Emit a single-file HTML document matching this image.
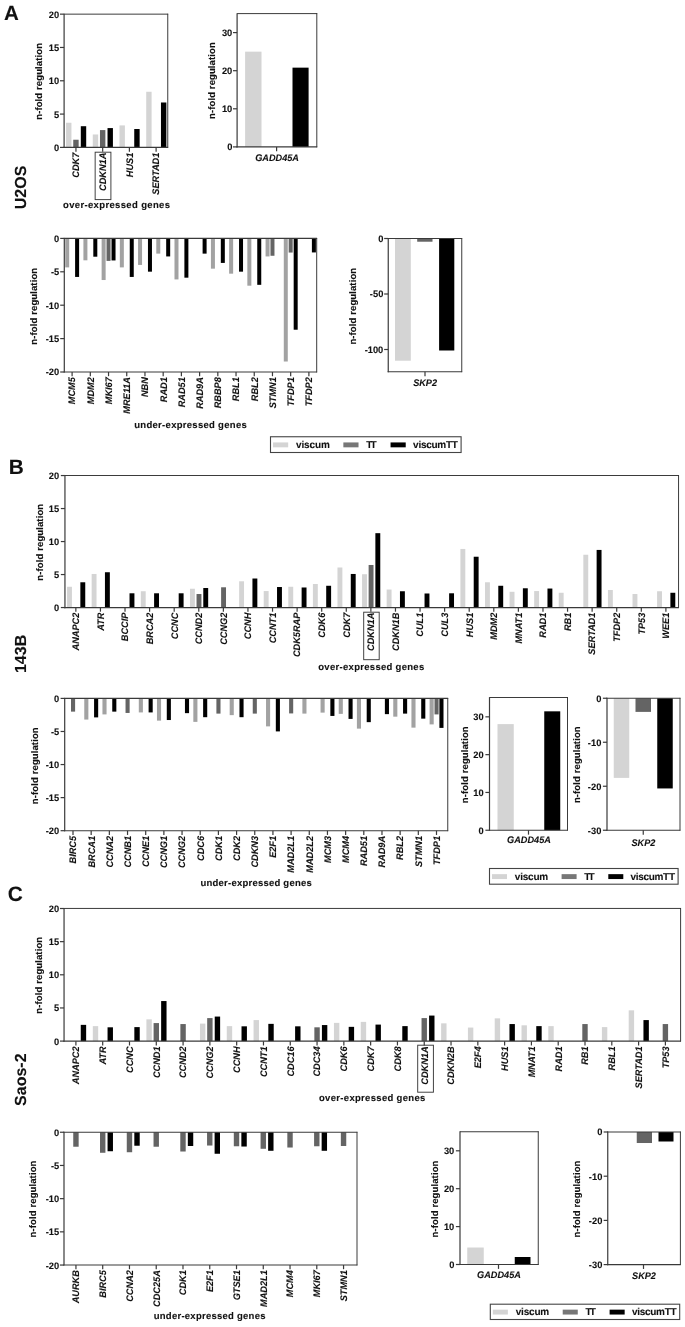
<!DOCTYPE html>
<html>
<head>
<meta charset="utf-8">
<title>Figure</title>
<style>
html, body { margin: 0; padding: 0; background: #ffffff; }
body { width: 685px; height: 1327px; overflow: hidden; font-family: "Liberation Sans", sans-serif; }
svg { display: block; will-change: transform; filter: blur(0.45px); }
svg text { font-family: "Liberation Sans", sans-serif; font-weight: bold; fill: #111; stroke: #111; stroke-width: 0.1px; text-rendering: geometricPrecision; }
</style>
</head>
<body>
<svg width="685" height="1327" viewBox="0 0 685 1327">
<rect x="0" y="0" width="685" height="1327" fill="#ffffff"/>
<text x="3.9" y="19.5" font-size="20.5">A</text>
<text x="8.7" y="473.8" font-size="20.8">B</text>
<text x="7.7" y="901.4" font-size="20.8">C</text>
<text x="25.9" y="187.4" font-size="16" text-anchor="middle" transform="rotate(-90 25.9 187.4)">U2OS</text>
<text x="25.9" y="653.9" font-size="16" text-anchor="middle" transform="rotate(-90 25.9 653.9)">143B</text>
<text x="25.8" y="1079.7" font-size="16" text-anchor="middle" transform="rotate(-90 25.8 1079.7)">Saos-2</text>
<rect x="66.05" y="122.75" width="5.4" height="24.65" fill="#d4d4d4"/>
<rect x="73.25" y="139.74" width="5.4" height="7.66" fill="#646464"/>
<rect x="80.8" y="126.21" width="5.4" height="21.19" fill="#000000"/>
<rect x="92.77" y="134.47" width="5.4" height="12.93" fill="#d4d4d4"/>
<rect x="99.97" y="130.08" width="5.4" height="17.32" fill="#646464"/>
<rect x="107.52" y="128.08" width="5.4" height="19.32" fill="#000000"/>
<rect x="119.49" y="125.41" width="5.4" height="21.99" fill="#d4d4d4"/>
<rect x="134.24" y="129.01" width="5.4" height="18.39" fill="#000000"/>
<rect x="146.21" y="91.77" width="5.4" height="55.63" fill="#d4d4d4"/>
<rect x="160.96" y="102.49" width="5.4" height="44.91" fill="#000000"/>
<line x1="167.75" y1="13.75" x2="167.75" y2="147.8" stroke="#303030" stroke-width="0.95"/>
<line x1="64.1" y1="14.15" x2="168.15" y2="14.15" stroke="#303030" stroke-width="0.95"/>
<line x1="64.1" y1="13.75" x2="64.1" y2="148" stroke="#3a3a3a" stroke-width="1.2"/>
<line x1="63.5" y1="147.4" x2="168.15" y2="147.4" stroke="#3a3a3a" stroke-width="1.2"/>
<line x1="60" y1="147.4" x2="64.1" y2="147.4" stroke="#3a3a3a" stroke-width="1.2"/>
<text x="59.2" y="150.85" font-size="9.3" text-anchor="end">0</text>
<line x1="60" y1="114.09" x2="64.1" y2="114.09" stroke="#3a3a3a" stroke-width="1.2"/>
<text x="59.2" y="117.54" font-size="9.3" text-anchor="end">5</text>
<line x1="60" y1="80.78" x2="64.1" y2="80.78" stroke="#3a3a3a" stroke-width="1.2"/>
<text x="59.2" y="84.23" font-size="9.3" text-anchor="end">10</text>
<line x1="60" y1="47.46" x2="64.1" y2="47.46" stroke="#3a3a3a" stroke-width="1.2"/>
<text x="59.2" y="50.91" font-size="9.3" text-anchor="end">15</text>
<line x1="60" y1="14.15" x2="64.1" y2="14.15" stroke="#3a3a3a" stroke-width="1.2"/>
<text x="59.2" y="17.6" font-size="9.3" text-anchor="end">20</text>
<text x="42.2" y="119.78" font-size="9.5" transform="rotate(-90 42.2 119.78)" textLength="76.75" lengthAdjust="spacing">n-fold regulation</text>
<line x1="75.95" y1="147.5" x2="75.95" y2="151.7" stroke="#3a3a3a" stroke-width="1.2"/>
<text x="79.3" y="177.66" font-size="9.5" font-style="italic" transform="rotate(-90 79.3 177.66)" textLength="24.96" lengthAdjust="spacingAndGlyphs">CDK7</text>
<line x1="102.67" y1="147.5" x2="102.67" y2="151.7" stroke="#3a3a3a" stroke-width="1.2"/>
<text x="106.02" y="190.9" font-size="9.5" font-style="italic" transform="rotate(-90 106.02 190.9)" textLength="38.2" lengthAdjust="spacingAndGlyphs">CDKN1A</text>
<line x1="129.39" y1="147.5" x2="129.39" y2="151.7" stroke="#3a3a3a" stroke-width="1.2"/>
<text x="132.74" y="177.16" font-size="9.5" font-style="italic" transform="rotate(-90 132.74 177.16)" textLength="24.46" lengthAdjust="spacingAndGlyphs">HUS1</text>
<line x1="156.11" y1="147.5" x2="156.11" y2="151.7" stroke="#3a3a3a" stroke-width="1.2"/>
<text x="159.46" y="194.64" font-size="9.5" font-style="italic" transform="rotate(-90 159.46 194.64)" textLength="41.94" lengthAdjust="spacingAndGlyphs">SERTAD1</text>
<text x="63" y="208.3" font-size="9.5" textLength="107" lengthAdjust="spacing">over-expressed genes</text>
<rect x="95.15" y="152.2" width="15.75" height="47.4" fill="none" stroke="#3a3a3a" stroke-width="0.95"/>
<rect x="245.1" y="51.65" width="16.4" height="95.25" fill="#d4d4d4"/>
<rect x="292.5" y="67.65" width="16.1" height="79.25" fill="#000000"/>
<line x1="316.8" y1="13.2" x2="316.8" y2="147.3" stroke="#303030" stroke-width="0.95"/>
<line x1="237.1" y1="13.6" x2="317.2" y2="13.6" stroke="#303030" stroke-width="0.95"/>
<line x1="237.1" y1="13.2" x2="237.1" y2="147.5" stroke="#3a3a3a" stroke-width="1.2"/>
<line x1="236.5" y1="146.9" x2="317.2" y2="146.9" stroke="#3a3a3a" stroke-width="1.2"/>
<line x1="233" y1="146.9" x2="237.1" y2="146.9" stroke="#3a3a3a" stroke-width="1.2"/>
<text x="232.3" y="150.35" font-size="9.3" text-anchor="end">0</text>
<line x1="233" y1="108.8" x2="237.1" y2="108.8" stroke="#3a3a3a" stroke-width="1.2"/>
<text x="232.3" y="112.25" font-size="9.3" text-anchor="end">10</text>
<line x1="233" y1="70.7" x2="237.1" y2="70.7" stroke="#3a3a3a" stroke-width="1.2"/>
<text x="232.3" y="74.15" font-size="9.3" text-anchor="end">20</text>
<line x1="233" y1="32.6" x2="237.1" y2="32.6" stroke="#3a3a3a" stroke-width="1.2"/>
<text x="232.3" y="36.05" font-size="9.3" text-anchor="end">30</text>
<text x="215.5" y="118.97" font-size="9.5" transform="rotate(-90 215.5 118.97)" textLength="76.75" lengthAdjust="spacing">n-fold regulation</text>
<line x1="276.6" y1="146.9" x2="276.6" y2="151.3" stroke="#3a3a3a" stroke-width="1.2"/>
<text x="255.19" y="160.7" font-size="9.5" font-style="italic" textLength="43.81" lengthAdjust="spacingAndGlyphs">GADD45A</text>
<rect x="65.2" y="238.4" width="4" height="28.99" fill="#a2a2a2"/>
<rect x="75.1" y="238.4" width="4" height="38.54" fill="#000000"/>
<rect x="83.41" y="238.4" width="4" height="21.91" fill="#a2a2a2"/>
<rect x="93.31" y="238.4" width="4" height="18.3" fill="#000000"/>
<rect x="101.63" y="238.4" width="4" height="41.62" fill="#a2a2a2"/>
<rect x="106.53" y="238.4" width="4" height="22.51" fill="#646464"/>
<rect x="111.53" y="238.4" width="4" height="22.04" fill="#000000"/>
<rect x="119.84" y="238.4" width="4" height="28.99" fill="#a2a2a2"/>
<rect x="129.75" y="238.4" width="4" height="38.54" fill="#000000"/>
<rect x="138.06" y="238.4" width="4" height="26.52" fill="#a2a2a2"/>
<rect x="147.96" y="238.4" width="4" height="33.27" fill="#000000"/>
<rect x="156.28" y="238.4" width="4" height="15.23" fill="#a2a2a2"/>
<rect x="166.18" y="238.4" width="4" height="18.04" fill="#000000"/>
<rect x="174.49" y="238.4" width="4" height="41.02" fill="#a2a2a2"/>
<rect x="184.39" y="238.4" width="4" height="39.28" fill="#000000"/>
<rect x="202.6" y="238.4" width="4" height="15.23" fill="#000000"/>
<rect x="210.92" y="238.4" width="4" height="30.26" fill="#a2a2a2"/>
<rect x="220.82" y="238.4" width="4" height="24.52" fill="#000000"/>
<rect x="229.13" y="238.4" width="4" height="35.27" fill="#a2a2a2"/>
<rect x="239.03" y="238.4" width="4" height="33.27" fill="#000000"/>
<rect x="247.35" y="238.4" width="4" height="47.29" fill="#a2a2a2"/>
<rect x="257.25" y="238.4" width="4" height="46.43" fill="#000000"/>
<rect x="265.57" y="238.4" width="4" height="18.04" fill="#a2a2a2"/>
<rect x="270.47" y="238.4" width="4" height="17.37" fill="#646464"/>
<rect x="283.78" y="238.4" width="4" height="123.11" fill="#a2a2a2"/>
<rect x="288.68" y="238.4" width="4" height="14.16" fill="#646464"/>
<rect x="293.68" y="238.4" width="4" height="91.32" fill="#000000"/>
<rect x="311.89" y="238.4" width="4" height="14.03" fill="#000000"/>
<line x1="316.7" y1="238" x2="316.7" y2="372.4" stroke="#303030" stroke-width="0.95"/>
<line x1="63.7" y1="238.4" x2="317.1" y2="238.4" stroke="#3a3a3a" stroke-width="1.2"/>
<line x1="64.3" y1="238" x2="64.3" y2="372.6" stroke="#3a3a3a" stroke-width="1.2"/>
<line x1="63.7" y1="372" x2="317.1" y2="372" stroke="#3a3a3a" stroke-width="1.2"/>
<line x1="60.2" y1="238.4" x2="64.3" y2="238.4" stroke="#3a3a3a" stroke-width="1.2"/>
<text x="59.2" y="241.85" font-size="9.3" text-anchor="end">0</text>
<line x1="60.2" y1="271.8" x2="64.3" y2="271.8" stroke="#3a3a3a" stroke-width="1.2"/>
<text x="59.2" y="275.25" font-size="9.3" text-anchor="end">-5</text>
<line x1="60.2" y1="305.2" x2="64.3" y2="305.2" stroke="#3a3a3a" stroke-width="1.2"/>
<text x="59.2" y="308.65" font-size="9.3" text-anchor="end">-10</text>
<line x1="60.2" y1="338.6" x2="64.3" y2="338.6" stroke="#3a3a3a" stroke-width="1.2"/>
<text x="59.2" y="342.05" font-size="9.3" text-anchor="end">-15</text>
<line x1="60.2" y1="372" x2="64.3" y2="372" stroke="#3a3a3a" stroke-width="1.2"/>
<text x="59.2" y="375.45" font-size="9.3" text-anchor="end">-20</text>
<text x="36.9" y="344.62" font-size="9.5" transform="rotate(-90 36.9 344.62)" textLength="76.75" lengthAdjust="spacing">n-fold regulation</text>
<line x1="72.1" y1="372" x2="72.1" y2="376.2" stroke="#3a3a3a" stroke-width="1.2"/>
<text x="75.45" y="404.19" font-size="9.5" font-style="italic" transform="rotate(-90 75.45 404.19)" textLength="26.99" lengthAdjust="spacingAndGlyphs">MCM5</text>
<line x1="90.31" y1="372" x2="90.31" y2="376.2" stroke="#3a3a3a" stroke-width="1.2"/>
<text x="93.66" y="404.19" font-size="9.5" font-style="italic" transform="rotate(-90 93.66 404.19)" textLength="26.99" lengthAdjust="spacingAndGlyphs">MDM2</text>
<line x1="108.53" y1="372" x2="108.53" y2="376.2" stroke="#3a3a3a" stroke-width="1.2"/>
<text x="111.88" y="404.2" font-size="9.5" font-style="italic" transform="rotate(-90 111.88 404.2)" textLength="27" lengthAdjust="spacingAndGlyphs">MKI67</text>
<line x1="126.74" y1="372" x2="126.74" y2="376.2" stroke="#3a3a3a" stroke-width="1.2"/>
<text x="130.09" y="413.71" font-size="9.5" font-style="italic" transform="rotate(-90 130.09 413.71)" textLength="36.51" lengthAdjust="spacingAndGlyphs">MRE11A</text>
<line x1="144.96" y1="372" x2="144.96" y2="376.2" stroke="#3a3a3a" stroke-width="1.2"/>
<text x="148.31" y="397.06" font-size="9.5" font-style="italic" transform="rotate(-90 148.31 397.06)" textLength="19.86" lengthAdjust="spacingAndGlyphs">NBN</text>
<line x1="163.18" y1="372" x2="163.18" y2="376.2" stroke="#3a3a3a" stroke-width="1.2"/>
<text x="166.53" y="402.16" font-size="9.5" font-style="italic" transform="rotate(-90 166.53 402.16)" textLength="24.96" lengthAdjust="spacingAndGlyphs">RAD1</text>
<line x1="181.39" y1="372" x2="181.39" y2="376.2" stroke="#3a3a3a" stroke-width="1.2"/>
<text x="184.74" y="407.26" font-size="9.5" font-style="italic" transform="rotate(-90 184.74 407.26)" textLength="30.06" lengthAdjust="spacingAndGlyphs">RAD51</text>
<line x1="199.6" y1="372" x2="199.6" y2="376.2" stroke="#3a3a3a" stroke-width="1.2"/>
<text x="202.95" y="408.78" font-size="9.5" font-style="italic" transform="rotate(-90 202.95 408.78)" textLength="31.58" lengthAdjust="spacingAndGlyphs">RAD9A</text>
<line x1="217.82" y1="372" x2="217.82" y2="376.2" stroke="#3a3a3a" stroke-width="1.2"/>
<text x="221.17" y="408.28" font-size="9.5" font-style="italic" transform="rotate(-90 221.17 408.28)" textLength="31.08" lengthAdjust="spacingAndGlyphs">RBBP8</text>
<line x1="236.03" y1="372" x2="236.03" y2="376.2" stroke="#3a3a3a" stroke-width="1.2"/>
<text x="239.38" y="401.14" font-size="9.5" font-style="italic" transform="rotate(-90 239.38 401.14)" textLength="23.94" lengthAdjust="spacingAndGlyphs">RBL1</text>
<line x1="254.25" y1="372" x2="254.25" y2="376.2" stroke="#3a3a3a" stroke-width="1.2"/>
<text x="257.6" y="401.14" font-size="9.5" font-style="italic" transform="rotate(-90 257.6 401.14)" textLength="23.94" lengthAdjust="spacingAndGlyphs">RBL2</text>
<line x1="272.47" y1="372" x2="272.47" y2="376.2" stroke="#3a3a3a" stroke-width="1.2"/>
<text x="275.82" y="408.27" font-size="9.5" font-style="italic" transform="rotate(-90 275.82 408.27)" textLength="31.07" lengthAdjust="spacingAndGlyphs">STMN1</text>
<line x1="290.68" y1="372" x2="290.68" y2="376.2" stroke="#3a3a3a" stroke-width="1.2"/>
<text x="294.03" y="406.23" font-size="9.5" font-style="italic" transform="rotate(-90 294.03 406.23)" textLength="29.03" lengthAdjust="spacingAndGlyphs">TFDP1</text>
<line x1="308.89" y1="372" x2="308.89" y2="376.2" stroke="#3a3a3a" stroke-width="1.2"/>
<text x="312.25" y="406.23" font-size="9.5" font-style="italic" transform="rotate(-90 312.25 406.23)" textLength="29.03" lengthAdjust="spacingAndGlyphs">TFDP2</text>
<text x="134.25" y="427.7" font-size="9.5" textLength="112.5" lengthAdjust="spacing">under-expressed genes</text>
<rect x="395" y="238.5" width="15.8" height="122.21" fill="#d4d4d4"/>
<rect x="417.2" y="238.5" width="15.3" height="3.22" fill="#646464"/>
<rect x="439.1" y="238.5" width="15.2" height="112" fill="#000000"/>
<line x1="461.75" y1="238.1" x2="461.75" y2="372.15" stroke="#303030" stroke-width="0.95"/>
<line x1="387.65" y1="238.5" x2="462.15" y2="238.5" stroke="#3a3a3a" stroke-width="1.2"/>
<line x1="388.25" y1="238.1" x2="388.25" y2="372.35" stroke="#3a3a3a" stroke-width="1.2"/>
<line x1="387.65" y1="371.75" x2="462.15" y2="371.75" stroke="#3a3a3a" stroke-width="1.2"/>
<line x1="384.15" y1="238.5" x2="388.25" y2="238.5" stroke="#3a3a3a" stroke-width="1.2"/>
<text x="383.3" y="241.95" font-size="9.3" text-anchor="end">0</text>
<line x1="384.15" y1="294" x2="388.25" y2="294" stroke="#3a3a3a" stroke-width="1.2"/>
<text x="383.3" y="297.45" font-size="9.3" text-anchor="end">-50</text>
<line x1="384.15" y1="349.5" x2="388.25" y2="349.5" stroke="#3a3a3a" stroke-width="1.2"/>
<text x="383.3" y="352.95" font-size="9.3" text-anchor="end">-100</text>
<text x="355.8" y="344.62" font-size="9.5" transform="rotate(-90 355.8 344.62)" textLength="76.75" lengthAdjust="spacing">n-fold regulation</text>
<line x1="425" y1="371.75" x2="425" y2="376.15" stroke="#3a3a3a" stroke-width="1.2"/>
<text x="413.13" y="386.2" font-size="9.5" font-style="italic" textLength="23.95" lengthAdjust="spacingAndGlyphs">SKP2</text>
<rect x="270.5" y="436.75" width="190.6" height="15.75" fill="#fff" stroke="#444" stroke-width="1.1"/>
<rect x="273.03" y="442.43" width="15.16" height="4.9" fill="#d4d4d4"/>
<text x="296.07" y="448.02" font-size="10" textLength="33.75" lengthAdjust="spacing">viscum</text>
<rect x="343.36" y="442.43" width="15.16" height="4.9" fill="#777"/>
<text x="366.2" y="448.02" font-size="10" textLength="10.51" lengthAdjust="spacing">TT</text>
<rect x="390.56" y="442.43" width="15.16" height="4.9" fill="#000000"/>
<text x="413.1" y="448.02" font-size="10" textLength="44.87" lengthAdjust="spacing">viscumTT</text>
<rect x="67.05" y="586.76" width="4.9" height="20.79" fill="#d4d4d4"/>
<rect x="80.35" y="582.27" width="4.9" height="25.28" fill="#000000"/>
<rect x="91.64" y="573.96" width="4.9" height="33.59" fill="#d4d4d4"/>
<rect x="104.94" y="572.24" width="4.9" height="35.31" fill="#000000"/>
<rect x="129.52" y="593.29" width="4.9" height="14.26" fill="#000000"/>
<rect x="140.8" y="591.25" width="4.9" height="16.3" fill="#d4d4d4"/>
<rect x="154.1" y="593.29" width="4.9" height="14.26" fill="#000000"/>
<rect x="178.69" y="593.29" width="4.9" height="14.26" fill="#000000"/>
<rect x="189.97" y="588.74" width="4.9" height="18.81" fill="#d4d4d4"/>
<rect x="196.53" y="594.02" width="4.9" height="13.53" fill="#646464"/>
<rect x="203.28" y="588.01" width="4.9" height="19.54" fill="#000000"/>
<rect x="221.11" y="587.29" width="4.9" height="20.26" fill="#646464"/>
<rect x="239.14" y="581.28" width="4.9" height="26.27" fill="#d4d4d4"/>
<rect x="252.44" y="578.51" width="4.9" height="29.04" fill="#000000"/>
<rect x="263.73" y="591.05" width="4.9" height="16.5" fill="#d4d4d4"/>
<rect x="277.03" y="587.02" width="4.9" height="20.53" fill="#000000"/>
<rect x="288.31" y="586.76" width="4.9" height="20.79" fill="#d4d4d4"/>
<rect x="301.62" y="587.49" width="4.9" height="20.06" fill="#000000"/>
<rect x="312.9" y="583.99" width="4.9" height="23.56" fill="#d4d4d4"/>
<rect x="326.2" y="585.77" width="4.9" height="21.78" fill="#000000"/>
<rect x="337.48" y="567.49" width="4.9" height="40.06" fill="#d4d4d4"/>
<rect x="350.78" y="573.96" width="4.9" height="33.59" fill="#000000"/>
<rect x="362.07" y="574.22" width="4.9" height="33.33" fill="#d4d4d4"/>
<rect x="368.62" y="564.98" width="4.9" height="42.57" fill="#646464"/>
<rect x="375.37" y="533.17" width="4.9" height="74.38" fill="#000000"/>
<rect x="386.66" y="589.53" width="4.9" height="18.02" fill="#d4d4d4"/>
<rect x="399.96" y="591.25" width="4.9" height="16.3" fill="#000000"/>
<rect x="424.54" y="593.49" width="4.9" height="14.06" fill="#000000"/>
<rect x="449.12" y="593.29" width="4.9" height="14.26" fill="#000000"/>
<rect x="460.41" y="548.94" width="4.9" height="58.61" fill="#d4d4d4"/>
<rect x="473.71" y="556.73" width="4.9" height="50.82" fill="#000000"/>
<rect x="484.99" y="582.27" width="4.9" height="25.28" fill="#d4d4d4"/>
<rect x="498.29" y="585.77" width="4.9" height="21.78" fill="#000000"/>
<rect x="509.58" y="591.78" width="4.9" height="15.77" fill="#d4d4d4"/>
<rect x="522.88" y="588.28" width="4.9" height="19.27" fill="#000000"/>
<rect x="534.17" y="591.05" width="4.9" height="16.5" fill="#d4d4d4"/>
<rect x="547.47" y="588.54" width="4.9" height="19.01" fill="#000000"/>
<rect x="558.75" y="592.77" width="4.9" height="14.78" fill="#d4d4d4"/>
<rect x="583.34" y="554.75" width="4.9" height="52.8" fill="#d4d4d4"/>
<rect x="596.63" y="549.93" width="4.9" height="57.62" fill="#000000"/>
<rect x="607.92" y="589.99" width="4.9" height="17.56" fill="#d4d4d4"/>
<rect x="632.51" y="594.02" width="4.9" height="13.53" fill="#d4d4d4"/>
<rect x="657.09" y="591.25" width="4.9" height="16.3" fill="#d4d4d4"/>
<rect x="670.39" y="592.77" width="4.9" height="14.78" fill="#000000"/>
<line x1="678.55" y1="475.1" x2="678.55" y2="607.95" stroke="#303030" stroke-width="0.95"/>
<line x1="64.95" y1="475.5" x2="678.95" y2="475.5" stroke="#303030" stroke-width="0.95"/>
<line x1="64.95" y1="475.1" x2="64.95" y2="608.15" stroke="#3a3a3a" stroke-width="1.2"/>
<line x1="64.35" y1="607.55" x2="678.95" y2="607.55" stroke="#3a3a3a" stroke-width="1.2"/>
<line x1="60.85" y1="607.55" x2="64.95" y2="607.55" stroke="#3a3a3a" stroke-width="1.2"/>
<text x="59.2" y="611" font-size="9.3" text-anchor="end">0</text>
<line x1="60.85" y1="574.55" x2="64.95" y2="574.55" stroke="#3a3a3a" stroke-width="1.2"/>
<text x="59.2" y="578" font-size="9.3" text-anchor="end">5</text>
<line x1="60.85" y1="541.55" x2="64.95" y2="541.55" stroke="#3a3a3a" stroke-width="1.2"/>
<text x="59.2" y="545" font-size="9.3" text-anchor="end">10</text>
<line x1="60.85" y1="508.55" x2="64.95" y2="508.55" stroke="#3a3a3a" stroke-width="1.2"/>
<text x="59.2" y="512" font-size="9.3" text-anchor="end">15</text>
<line x1="60.85" y1="475.55" x2="64.95" y2="475.55" stroke="#3a3a3a" stroke-width="1.2"/>
<text x="59.2" y="479" font-size="9.3" text-anchor="end">20</text>
<text x="43.1" y="580.62" font-size="9.5" transform="rotate(-90 43.1 580.62)" textLength="76.75" lengthAdjust="spacing">n-fold regulation</text>
<line x1="75.85" y1="607.5" x2="75.85" y2="611.7" stroke="#3a3a3a" stroke-width="1.2"/>
<text x="79.2" y="650.4" font-size="9.5" font-style="italic" transform="rotate(-90 79.2 650.4)" textLength="37.7" lengthAdjust="spacingAndGlyphs">ANAPC2</text>
<line x1="100.44" y1="607.5" x2="100.44" y2="611.7" stroke="#3a3a3a" stroke-width="1.2"/>
<text x="103.78" y="630.86" font-size="9.5" font-style="italic" transform="rotate(-90 103.78 630.86)" textLength="18.16" lengthAdjust="spacingAndGlyphs">ATR</text>
<line x1="125.02" y1="607.5" x2="125.02" y2="611.7" stroke="#3a3a3a" stroke-width="1.2"/>
<text x="128.37" y="641.22" font-size="9.5" font-style="italic" transform="rotate(-90 128.37 641.22)" textLength="28.52" lengthAdjust="spacingAndGlyphs">BCCIP</text>
<line x1="149.6" y1="607.5" x2="149.6" y2="611.7" stroke="#3a3a3a" stroke-width="1.2"/>
<text x="152.95" y="644.28" font-size="9.5" font-style="italic" transform="rotate(-90 152.95 644.28)" textLength="31.58" lengthAdjust="spacingAndGlyphs">BRCA2</text>
<line x1="174.19" y1="607.5" x2="174.19" y2="611.7" stroke="#3a3a3a" stroke-width="1.2"/>
<text x="177.54" y="639.18" font-size="9.5" font-style="italic" transform="rotate(-90 177.54 639.18)" textLength="26.48" lengthAdjust="spacingAndGlyphs">CCNC</text>
<line x1="198.78" y1="607.5" x2="198.78" y2="611.7" stroke="#3a3a3a" stroke-width="1.2"/>
<text x="202.12" y="644.28" font-size="9.5" font-style="italic" transform="rotate(-90 202.12 644.28)" textLength="31.58" lengthAdjust="spacingAndGlyphs">CCND2</text>
<line x1="223.36" y1="607.5" x2="223.36" y2="611.7" stroke="#3a3a3a" stroke-width="1.2"/>
<text x="226.71" y="644.79" font-size="9.5" font-style="italic" transform="rotate(-90 226.71 644.79)" textLength="32.09" lengthAdjust="spacingAndGlyphs">CCNG2</text>
<line x1="247.94" y1="607.5" x2="247.94" y2="611.7" stroke="#3a3a3a" stroke-width="1.2"/>
<text x="251.29" y="639.18" font-size="9.5" font-style="italic" transform="rotate(-90 251.29 639.18)" textLength="26.48" lengthAdjust="spacingAndGlyphs">CCNH</text>
<line x1="272.53" y1="607.5" x2="272.53" y2="611.7" stroke="#3a3a3a" stroke-width="1.2"/>
<text x="275.88" y="643.26" font-size="9.5" font-style="italic" transform="rotate(-90 275.88 643.26)" textLength="30.56" lengthAdjust="spacingAndGlyphs">CCNT1</text>
<line x1="297.12" y1="607.5" x2="297.12" y2="611.7" stroke="#3a3a3a" stroke-width="1.2"/>
<text x="300.47" y="657.02" font-size="9.5" font-style="italic" transform="rotate(-90 300.47 657.02)" textLength="44.32" lengthAdjust="spacingAndGlyphs">CDK5RAP</text>
<line x1="321.7" y1="607.5" x2="321.7" y2="611.7" stroke="#3a3a3a" stroke-width="1.2"/>
<text x="325.05" y="637.66" font-size="9.5" font-style="italic" transform="rotate(-90 325.05 637.66)" textLength="24.96" lengthAdjust="spacingAndGlyphs">CDK6</text>
<line x1="346.28" y1="607.5" x2="346.28" y2="611.7" stroke="#3a3a3a" stroke-width="1.2"/>
<text x="349.63" y="637.66" font-size="9.5" font-style="italic" transform="rotate(-90 349.63 637.66)" textLength="24.96" lengthAdjust="spacingAndGlyphs">CDK7</text>
<line x1="370.87" y1="607.5" x2="370.87" y2="611.7" stroke="#3a3a3a" stroke-width="1.2"/>
<text x="374.22" y="650.9" font-size="9.5" font-style="italic" transform="rotate(-90 374.22 650.9)" textLength="38.2" lengthAdjust="spacingAndGlyphs">CDKN1A</text>
<line x1="395.46" y1="607.5" x2="395.46" y2="611.7" stroke="#3a3a3a" stroke-width="1.2"/>
<text x="398.81" y="650.9" font-size="9.5" font-style="italic" transform="rotate(-90 398.81 650.9)" textLength="38.2" lengthAdjust="spacingAndGlyphs">CDKN1B</text>
<line x1="420.04" y1="607.5" x2="420.04" y2="611.7" stroke="#3a3a3a" stroke-width="1.2"/>
<text x="423.39" y="636.64" font-size="9.5" font-style="italic" transform="rotate(-90 423.39 636.64)" textLength="23.94" lengthAdjust="spacingAndGlyphs">CUL1</text>
<line x1="444.62" y1="607.5" x2="444.62" y2="611.7" stroke="#3a3a3a" stroke-width="1.2"/>
<text x="447.98" y="636.64" font-size="9.5" font-style="italic" transform="rotate(-90 447.98 636.64)" textLength="23.94" lengthAdjust="spacingAndGlyphs">CUL3</text>
<line x1="469.21" y1="607.5" x2="469.21" y2="611.7" stroke="#3a3a3a" stroke-width="1.2"/>
<text x="472.56" y="637.16" font-size="9.5" font-style="italic" transform="rotate(-90 472.56 637.16)" textLength="24.46" lengthAdjust="spacingAndGlyphs">HUS1</text>
<line x1="493.79" y1="607.5" x2="493.79" y2="611.7" stroke="#3a3a3a" stroke-width="1.2"/>
<text x="497.14" y="639.69" font-size="9.5" font-style="italic" transform="rotate(-90 497.14 639.69)" textLength="26.99" lengthAdjust="spacingAndGlyphs">MDM2</text>
<line x1="518.38" y1="607.5" x2="518.38" y2="611.7" stroke="#3a3a3a" stroke-width="1.2"/>
<text x="521.73" y="643.6" font-size="9.5" font-style="italic" transform="rotate(-90 521.73 643.6)" textLength="30.9" lengthAdjust="spacingAndGlyphs">MNAT1</text>
<line x1="542.97" y1="607.5" x2="542.97" y2="611.7" stroke="#3a3a3a" stroke-width="1.2"/>
<text x="546.32" y="637.66" font-size="9.5" font-style="italic" transform="rotate(-90 546.32 637.66)" textLength="24.96" lengthAdjust="spacingAndGlyphs">RAD1</text>
<line x1="567.55" y1="607.5" x2="567.55" y2="611.7" stroke="#3a3a3a" stroke-width="1.2"/>
<text x="570.9" y="631.04" font-size="9.5" font-style="italic" transform="rotate(-90 570.9 631.04)" textLength="18.34" lengthAdjust="spacingAndGlyphs">RB1</text>
<line x1="592.13" y1="607.5" x2="592.13" y2="611.7" stroke="#3a3a3a" stroke-width="1.2"/>
<text x="595.49" y="654.64" font-size="9.5" font-style="italic" transform="rotate(-90 595.49 654.64)" textLength="41.94" lengthAdjust="spacingAndGlyphs">SERTAD1</text>
<line x1="616.72" y1="607.5" x2="616.72" y2="611.7" stroke="#3a3a3a" stroke-width="1.2"/>
<text x="620.07" y="641.73" font-size="9.5" font-style="italic" transform="rotate(-90 620.07 641.73)" textLength="29.03" lengthAdjust="spacingAndGlyphs">TFDP2</text>
<line x1="641.31" y1="607.5" x2="641.31" y2="611.7" stroke="#3a3a3a" stroke-width="1.2"/>
<text x="644.66" y="634.61" font-size="9.5" font-style="italic" transform="rotate(-90 644.66 634.61)" textLength="21.91" lengthAdjust="spacingAndGlyphs">TP53</text>
<line x1="665.89" y1="607.5" x2="665.89" y2="611.7" stroke="#3a3a3a" stroke-width="1.2"/>
<text x="669.24" y="638.68" font-size="9.5" font-style="italic" transform="rotate(-90 669.24 638.68)" textLength="25.98" lengthAdjust="spacingAndGlyphs">WEE1</text>
<text x="318.25" y="669.5" font-size="9.5" textLength="106" lengthAdjust="spacing">over-expressed genes</text>
<rect x="363.7" y="612.2" width="15.5" height="47.5" fill="none" stroke="#3a3a3a" stroke-width="0.95"/>
<rect x="71" y="698.4" width="4.1" height="13.23" fill="#646464"/>
<rect x="84.27" y="698.4" width="4.1" height="21.17" fill="#a2a2a2"/>
<rect x="94.08" y="698.4" width="4.1" height="18.99" fill="#000000"/>
<rect x="102.45" y="698.4" width="4.1" height="16.01" fill="#a2a2a2"/>
<rect x="112.25" y="698.4" width="4.1" height="13.23" fill="#000000"/>
<rect x="125.53" y="698.4" width="4.1" height="14.55" fill="#646464"/>
<rect x="138.8" y="698.4" width="4.1" height="14.02" fill="#a2a2a2"/>
<rect x="148.6" y="698.4" width="4.1" height="14.02" fill="#000000"/>
<rect x="156.97" y="698.4" width="4.1" height="22.23" fill="#a2a2a2"/>
<rect x="166.78" y="698.4" width="4.1" height="21.63" fill="#000000"/>
<rect x="184.95" y="698.4" width="4.1" height="14.75" fill="#000000"/>
<rect x="193.33" y="698.4" width="4.1" height="23.48" fill="#a2a2a2"/>
<rect x="203.13" y="698.4" width="4.1" height="18.79" fill="#000000"/>
<rect x="216.4" y="698.4" width="4.1" height="15.21" fill="#646464"/>
<rect x="229.68" y="698.4" width="4.1" height="16.74" fill="#a2a2a2"/>
<rect x="239.48" y="698.4" width="4.1" height="18.79" fill="#000000"/>
<rect x="252.75" y="698.4" width="4.1" height="15.21" fill="#646464"/>
<rect x="266.03" y="698.4" width="4.1" height="27.98" fill="#a2a2a2"/>
<rect x="275.82" y="698.4" width="4.1" height="33.01" fill="#000000"/>
<rect x="289.1" y="698.4" width="4.1" height="15.02" fill="#646464"/>
<rect x="302.38" y="698.4" width="4.1" height="15.21" fill="#a2a2a2"/>
<rect x="320.55" y="698.4" width="4.1" height="14.22" fill="#a2a2a2"/>
<rect x="330.35" y="698.4" width="4.1" height="17.53" fill="#000000"/>
<rect x="338.73" y="698.4" width="4.1" height="15.48" fill="#a2a2a2"/>
<rect x="348.52" y="698.4" width="4.1" height="20.51" fill="#000000"/>
<rect x="356.9" y="698.4" width="4.1" height="30.23" fill="#a2a2a2"/>
<rect x="366.7" y="698.4" width="4.1" height="23.75" fill="#000000"/>
<rect x="384.88" y="698.4" width="4.1" height="15.74" fill="#000000"/>
<rect x="393.25" y="698.4" width="4.1" height="18.26" fill="#a2a2a2"/>
<rect x="403.05" y="698.4" width="4.1" height="15.21" fill="#000000"/>
<rect x="411.43" y="698.4" width="4.1" height="29.24" fill="#a2a2a2"/>
<rect x="421.22" y="698.4" width="4.1" height="20.24" fill="#000000"/>
<rect x="429.6" y="698.4" width="4.1" height="26" fill="#a2a2a2"/>
<rect x="434.5" y="698.4" width="4.1" height="16.01" fill="#646464"/>
<rect x="439.4" y="698.4" width="4.1" height="29.5" fill="#000000"/>
<line x1="447.75" y1="698" x2="447.75" y2="831.15" stroke="#303030" stroke-width="0.95"/>
<line x1="64.1" y1="698.4" x2="448.15" y2="698.4" stroke="#3a3a3a" stroke-width="1.2"/>
<line x1="64.7" y1="698" x2="64.7" y2="831.35" stroke="#3a3a3a" stroke-width="1.2"/>
<line x1="64.1" y1="830.75" x2="448.15" y2="830.75" stroke="#3a3a3a" stroke-width="1.2"/>
<line x1="60.6" y1="698.4" x2="64.7" y2="698.4" stroke="#3a3a3a" stroke-width="1.2"/>
<text x="59.2" y="701.85" font-size="9.3" text-anchor="end">0</text>
<line x1="60.6" y1="731.48" x2="64.7" y2="731.48" stroke="#3a3a3a" stroke-width="1.2"/>
<text x="59.2" y="734.93" font-size="9.3" text-anchor="end">-5</text>
<line x1="60.6" y1="764.55" x2="64.7" y2="764.55" stroke="#3a3a3a" stroke-width="1.2"/>
<text x="59.2" y="768" font-size="9.3" text-anchor="end">-10</text>
<line x1="60.6" y1="797.62" x2="64.7" y2="797.62" stroke="#3a3a3a" stroke-width="1.2"/>
<text x="59.2" y="801.08" font-size="9.3" text-anchor="end">-15</text>
<line x1="60.6" y1="830.7" x2="64.7" y2="830.7" stroke="#3a3a3a" stroke-width="1.2"/>
<text x="59.2" y="834.15" font-size="9.3" text-anchor="end">-20</text>
<text x="38.1" y="804.12" font-size="9.5" transform="rotate(-90 38.1 804.12)" textLength="76.75" lengthAdjust="spacing">n-fold regulation</text>
<line x1="73" y1="830.75" x2="73" y2="834.95" stroke="#3a3a3a" stroke-width="1.2"/>
<text x="76.35" y="863.46" font-size="9.5" font-style="italic" transform="rotate(-90 76.35 863.46)" textLength="27.51" lengthAdjust="spacingAndGlyphs">BIRC5</text>
<line x1="91.17" y1="830.75" x2="91.17" y2="834.95" stroke="#3a3a3a" stroke-width="1.2"/>
<text x="94.52" y="867.53" font-size="9.5" font-style="italic" transform="rotate(-90 94.52 867.53)" textLength="31.58" lengthAdjust="spacingAndGlyphs">BRCA1</text>
<line x1="109.35" y1="830.75" x2="109.35" y2="834.95" stroke="#3a3a3a" stroke-width="1.2"/>
<text x="112.7" y="867.53" font-size="9.5" font-style="italic" transform="rotate(-90 112.7 867.53)" textLength="31.58" lengthAdjust="spacingAndGlyphs">CCNA2</text>
<line x1="127.53" y1="830.75" x2="127.53" y2="834.95" stroke="#3a3a3a" stroke-width="1.2"/>
<text x="130.88" y="867.53" font-size="9.5" font-style="italic" transform="rotate(-90 130.88 867.53)" textLength="31.58" lengthAdjust="spacingAndGlyphs">CCNB1</text>
<line x1="145.7" y1="830.75" x2="145.7" y2="834.95" stroke="#3a3a3a" stroke-width="1.2"/>
<text x="149.05" y="867.03" font-size="9.5" font-style="italic" transform="rotate(-90 149.05 867.03)" textLength="31.08" lengthAdjust="spacingAndGlyphs">CCNE1</text>
<line x1="163.88" y1="830.75" x2="163.88" y2="834.95" stroke="#3a3a3a" stroke-width="1.2"/>
<text x="167.22" y="868.04" font-size="9.5" font-style="italic" transform="rotate(-90 167.22 868.04)" textLength="32.09" lengthAdjust="spacingAndGlyphs">CCNG1</text>
<line x1="182.05" y1="830.75" x2="182.05" y2="834.95" stroke="#3a3a3a" stroke-width="1.2"/>
<text x="185.4" y="868.04" font-size="9.5" font-style="italic" transform="rotate(-90 185.4 868.04)" textLength="32.09" lengthAdjust="spacingAndGlyphs">CCNG2</text>
<line x1="200.23" y1="830.75" x2="200.23" y2="834.95" stroke="#3a3a3a" stroke-width="1.2"/>
<text x="203.58" y="860.91" font-size="9.5" font-style="italic" transform="rotate(-90 203.58 860.91)" textLength="24.96" lengthAdjust="spacingAndGlyphs">CDC6</text>
<line x1="218.4" y1="830.75" x2="218.4" y2="834.95" stroke="#3a3a3a" stroke-width="1.2"/>
<text x="221.75" y="860.91" font-size="9.5" font-style="italic" transform="rotate(-90 221.75 860.91)" textLength="24.96" lengthAdjust="spacingAndGlyphs">CDK1</text>
<line x1="236.58" y1="830.75" x2="236.58" y2="834.95" stroke="#3a3a3a" stroke-width="1.2"/>
<text x="239.93" y="860.91" font-size="9.5" font-style="italic" transform="rotate(-90 239.93 860.91)" textLength="24.96" lengthAdjust="spacingAndGlyphs">CDK2</text>
<line x1="254.75" y1="830.75" x2="254.75" y2="834.95" stroke="#3a3a3a" stroke-width="1.2"/>
<text x="258.1" y="867.53" font-size="9.5" font-style="italic" transform="rotate(-90 258.1 867.53)" textLength="31.58" lengthAdjust="spacingAndGlyphs">CDKN3</text>
<line x1="272.93" y1="830.75" x2="272.93" y2="834.95" stroke="#3a3a3a" stroke-width="1.2"/>
<text x="276.28" y="857.86" font-size="9.5" font-style="italic" transform="rotate(-90 276.28 857.86)" textLength="21.91" lengthAdjust="spacingAndGlyphs">E2F1</text>
<line x1="291.1" y1="830.75" x2="291.1" y2="834.95" stroke="#3a3a3a" stroke-width="1.2"/>
<text x="294.45" y="872.63" font-size="9.5" font-style="italic" transform="rotate(-90 294.45 872.63)" textLength="36.68" lengthAdjust="spacingAndGlyphs">MAD2L1</text>
<line x1="309.27" y1="830.75" x2="309.27" y2="834.95" stroke="#3a3a3a" stroke-width="1.2"/>
<text x="312.62" y="872.63" font-size="9.5" font-style="italic" transform="rotate(-90 312.62 872.63)" textLength="36.68" lengthAdjust="spacingAndGlyphs">MAD2L2</text>
<line x1="327.45" y1="830.75" x2="327.45" y2="834.95" stroke="#3a3a3a" stroke-width="1.2"/>
<text x="330.8" y="862.94" font-size="9.5" font-style="italic" transform="rotate(-90 330.8 862.94)" textLength="26.99" lengthAdjust="spacingAndGlyphs">MCM3</text>
<line x1="345.62" y1="830.75" x2="345.62" y2="834.95" stroke="#3a3a3a" stroke-width="1.2"/>
<text x="348.98" y="862.94" font-size="9.5" font-style="italic" transform="rotate(-90 348.98 862.94)" textLength="26.99" lengthAdjust="spacingAndGlyphs">MCM4</text>
<line x1="363.8" y1="830.75" x2="363.8" y2="834.95" stroke="#3a3a3a" stroke-width="1.2"/>
<text x="367.15" y="866.01" font-size="9.5" font-style="italic" transform="rotate(-90 367.15 866.01)" textLength="30.06" lengthAdjust="spacingAndGlyphs">RAD51</text>
<line x1="381.98" y1="830.75" x2="381.98" y2="834.95" stroke="#3a3a3a" stroke-width="1.2"/>
<text x="385.33" y="867.53" font-size="9.5" font-style="italic" transform="rotate(-90 385.33 867.53)" textLength="31.58" lengthAdjust="spacingAndGlyphs">RAD9A</text>
<line x1="400.15" y1="830.75" x2="400.15" y2="834.95" stroke="#3a3a3a" stroke-width="1.2"/>
<text x="403.5" y="859.89" font-size="9.5" font-style="italic" transform="rotate(-90 403.5 859.89)" textLength="23.94" lengthAdjust="spacingAndGlyphs">RBL2</text>
<line x1="418.32" y1="830.75" x2="418.32" y2="834.95" stroke="#3a3a3a" stroke-width="1.2"/>
<text x="421.68" y="867.02" font-size="9.5" font-style="italic" transform="rotate(-90 421.68 867.02)" textLength="31.07" lengthAdjust="spacingAndGlyphs">STMN1</text>
<line x1="436.5" y1="830.75" x2="436.5" y2="834.95" stroke="#3a3a3a" stroke-width="1.2"/>
<text x="439.85" y="864.98" font-size="9.5" font-style="italic" transform="rotate(-90 439.85 864.98)" textLength="29.03" lengthAdjust="spacingAndGlyphs">TFDP1</text>
<text x="200.5" y="885.6" font-size="9.5" textLength="111.25" lengthAdjust="spacing">under-expressed genes</text>
<rect x="497.5" y="724.11" width="16.25" height="106.14" fill="#d4d4d4"/>
<rect x="544.25" y="711.33" width="16" height="118.92" fill="#000000"/>
<line x1="567.5" y1="697.1" x2="567.5" y2="830.65" stroke="#303030" stroke-width="0.95"/>
<line x1="489.5" y1="697.5" x2="567.9" y2="697.5" stroke="#303030" stroke-width="0.95"/>
<line x1="489.5" y1="697.1" x2="489.5" y2="830.85" stroke="#3a3a3a" stroke-width="1.2"/>
<line x1="488.9" y1="830.25" x2="567.9" y2="830.25" stroke="#3a3a3a" stroke-width="1.2"/>
<line x1="485.4" y1="830.25" x2="489.5" y2="830.25" stroke="#3a3a3a" stroke-width="1.2"/>
<text x="483.7" y="833.7" font-size="9.3" text-anchor="end">0</text>
<line x1="485.4" y1="792.45" x2="489.5" y2="792.45" stroke="#3a3a3a" stroke-width="1.2"/>
<text x="483.7" y="795.9" font-size="9.3" text-anchor="end">10</text>
<line x1="485.4" y1="754.65" x2="489.5" y2="754.65" stroke="#3a3a3a" stroke-width="1.2"/>
<text x="483.7" y="758.1" font-size="9.3" text-anchor="end">20</text>
<line x1="485.4" y1="716.85" x2="489.5" y2="716.85" stroke="#3a3a3a" stroke-width="1.2"/>
<text x="483.7" y="720.3" font-size="9.3" text-anchor="end">30</text>
<text x="468.2" y="803.12" font-size="9.5" transform="rotate(-90 468.2 803.12)" textLength="76.75" lengthAdjust="spacing">n-fold regulation</text>
<line x1="528.5" y1="830.25" x2="528.5" y2="834.65" stroke="#3a3a3a" stroke-width="1.2"/>
<text x="507.09" y="842.9" font-size="9.5" font-style="italic" textLength="43.81" lengthAdjust="spacingAndGlyphs">GADD45A</text>
<rect x="613.75" y="698.25" width="15.5" height="79.64" fill="#d4d4d4"/>
<rect x="635.5" y="698.25" width="15.5" height="13.64" fill="#646464"/>
<rect x="657.25" y="698.25" width="15.5" height="90.2" fill="#000000"/>
<line x1="680" y1="697.85" x2="680" y2="830.65" stroke="#303030" stroke-width="0.95"/>
<line x1="606.4" y1="698.25" x2="680.4" y2="698.25" stroke="#3a3a3a" stroke-width="1.2"/>
<line x1="607" y1="697.85" x2="607" y2="830.85" stroke="#3a3a3a" stroke-width="1.2"/>
<line x1="606.4" y1="830.25" x2="680.4" y2="830.25" stroke="#3a3a3a" stroke-width="1.2"/>
<line x1="602.9" y1="698.25" x2="607" y2="698.25" stroke="#3a3a3a" stroke-width="1.2"/>
<text x="601.3" y="701.7" font-size="9.3" text-anchor="end">0</text>
<line x1="602.9" y1="742.25" x2="607" y2="742.25" stroke="#3a3a3a" stroke-width="1.2"/>
<text x="601.3" y="745.7" font-size="9.3" text-anchor="end">-10</text>
<line x1="602.9" y1="786.25" x2="607" y2="786.25" stroke="#3a3a3a" stroke-width="1.2"/>
<text x="601.3" y="789.7" font-size="9.3" text-anchor="end">-20</text>
<line x1="602.9" y1="830.25" x2="607" y2="830.25" stroke="#3a3a3a" stroke-width="1.2"/>
<text x="601.3" y="833.7" font-size="9.3" text-anchor="end">-30</text>
<text x="579.8" y="803.12" font-size="9.5" transform="rotate(-90 579.8 803.12)" textLength="76.75" lengthAdjust="spacing">n-fold regulation</text>
<line x1="643.25" y1="830.25" x2="643.25" y2="834.65" stroke="#3a3a3a" stroke-width="1.2"/>
<text x="631.43" y="845.9" font-size="9.5" font-style="italic" textLength="23.95" lengthAdjust="spacingAndGlyphs">SKP2</text>
<rect x="489.5" y="868.5" width="188.6" height="15.7" fill="#fff" stroke="#444" stroke-width="1.1"/>
<rect x="492" y="874.15" width="15" height="4.9" fill="#d4d4d4"/>
<text x="514.8" y="879.75" font-size="10" textLength="33.4" lengthAdjust="spacing">viscum</text>
<rect x="561.6" y="874.15" width="15" height="4.9" fill="#777"/>
<text x="584.2" y="879.75" font-size="10" textLength="10.4" lengthAdjust="spacing">TT</text>
<rect x="608.3" y="874.15" width="15" height="4.9" fill="#000000"/>
<text x="630.6" y="879.75" font-size="10" textLength="44.4" lengthAdjust="spacing">viscumTT</text>
<rect x="80.75" y="1024.86" width="5.4" height="16.24" fill="#000000"/>
<rect x="92.8" y="1026.12" width="5.4" height="14.98" fill="#d4d4d4"/>
<rect x="107.55" y="1027.31" width="5.4" height="13.79" fill="#000000"/>
<rect x="134.34" y="1027.11" width="5.4" height="13.99" fill="#000000"/>
<rect x="146.39" y="1019.35" width="5.4" height="21.75" fill="#d4d4d4"/>
<rect x="153.59" y="1023.07" width="5.4" height="18.03" fill="#646464"/>
<rect x="161.14" y="1001.05" width="5.4" height="40.05" fill="#000000"/>
<rect x="180.38" y="1024.06" width="5.4" height="17.04" fill="#646464"/>
<rect x="199.98" y="1023.6" width="5.4" height="17.5" fill="#d4d4d4"/>
<rect x="207.18" y="1018.09" width="5.4" height="23.01" fill="#646464"/>
<rect x="214.73" y="1016.57" width="5.4" height="24.53" fill="#000000"/>
<rect x="226.77" y="1026.12" width="5.4" height="14.98" fill="#d4d4d4"/>
<rect x="241.52" y="1026.32" width="5.4" height="14.78" fill="#000000"/>
<rect x="253.57" y="1020.08" width="5.4" height="21.02" fill="#d4d4d4"/>
<rect x="268.32" y="1023.86" width="5.4" height="17.24" fill="#000000"/>
<rect x="295.11" y="1026.32" width="5.4" height="14.78" fill="#000000"/>
<rect x="314.36" y="1027.31" width="5.4" height="13.79" fill="#646464"/>
<rect x="321.91" y="1025.06" width="5.4" height="16.04" fill="#000000"/>
<rect x="333.95" y="1022.87" width="5.4" height="18.23" fill="#d4d4d4"/>
<rect x="348.7" y="1026.85" width="5.4" height="14.25" fill="#000000"/>
<rect x="360.75" y="1021.87" width="5.4" height="19.23" fill="#d4d4d4"/>
<rect x="375.5" y="1024.59" width="5.4" height="16.51" fill="#000000"/>
<rect x="402.29" y="1026.12" width="5.4" height="14.98" fill="#000000"/>
<rect x="421.54" y="1018.09" width="5.4" height="23.01" fill="#646464"/>
<rect x="429.09" y="1015.57" width="5.4" height="25.53" fill="#000000"/>
<rect x="441.13" y="1023.33" width="5.4" height="17.77" fill="#d4d4d4"/>
<rect x="467.93" y="1027.57" width="5.4" height="13.53" fill="#d4d4d4"/>
<rect x="494.72" y="1018.36" width="5.4" height="22.74" fill="#d4d4d4"/>
<rect x="509.47" y="1024.06" width="5.4" height="17.04" fill="#000000"/>
<rect x="521.52" y="1025.32" width="5.4" height="15.78" fill="#d4d4d4"/>
<rect x="536.27" y="1026.12" width="5.4" height="14.98" fill="#000000"/>
<rect x="548.31" y="1026.12" width="5.4" height="14.98" fill="#d4d4d4"/>
<rect x="582.3" y="1024.06" width="5.4" height="17.04" fill="#646464"/>
<rect x="601.9" y="1027.11" width="5.4" height="13.99" fill="#d4d4d4"/>
<rect x="628.7" y="1010.34" width="5.4" height="30.76" fill="#d4d4d4"/>
<rect x="643.45" y="1020.08" width="5.4" height="21.02" fill="#000000"/>
<rect x="662.69" y="1024.06" width="5.4" height="17.04" fill="#646464"/>
<line x1="680.6" y1="908.05" x2="680.6" y2="1041.5" stroke="#303030" stroke-width="0.95"/>
<line x1="64.05" y1="908.45" x2="681" y2="908.45" stroke="#303030" stroke-width="0.95"/>
<line x1="64.05" y1="908.05" x2="64.05" y2="1041.7" stroke="#3a3a3a" stroke-width="1.2"/>
<line x1="63.45" y1="1041.1" x2="681" y2="1041.1" stroke="#3a3a3a" stroke-width="1.2"/>
<line x1="59.95" y1="1041.1" x2="64.05" y2="1041.1" stroke="#3a3a3a" stroke-width="1.2"/>
<text x="59.1" y="1044.55" font-size="9.3" text-anchor="end">0</text>
<line x1="59.95" y1="1007.95" x2="64.05" y2="1007.95" stroke="#3a3a3a" stroke-width="1.2"/>
<text x="59.1" y="1011.4" font-size="9.3" text-anchor="end">5</text>
<line x1="59.95" y1="974.8" x2="64.05" y2="974.8" stroke="#3a3a3a" stroke-width="1.2"/>
<text x="59.1" y="978.25" font-size="9.3" text-anchor="end">10</text>
<line x1="59.95" y1="941.65" x2="64.05" y2="941.65" stroke="#3a3a3a" stroke-width="1.2"/>
<text x="59.1" y="945.1" font-size="9.3" text-anchor="end">15</text>
<line x1="59.95" y1="908.5" x2="64.05" y2="908.5" stroke="#3a3a3a" stroke-width="1.2"/>
<text x="59.1" y="911.95" font-size="9.3" text-anchor="end">20</text>
<text x="42.2" y="1013.62" font-size="9.5" transform="rotate(-90 42.2 1013.62)" textLength="76.75" lengthAdjust="spacing">n-fold regulation</text>
<line x1="75.9" y1="1041.25" x2="75.9" y2="1045.45" stroke="#3a3a3a" stroke-width="1.2"/>
<text x="79.25" y="1084.15" font-size="9.5" font-style="italic" transform="rotate(-90 79.25 1084.15)" textLength="37.7" lengthAdjust="spacingAndGlyphs">ANAPC2</text>
<line x1="102.7" y1="1041.25" x2="102.7" y2="1045.45" stroke="#3a3a3a" stroke-width="1.2"/>
<text x="106.05" y="1064.61" font-size="9.5" font-style="italic" transform="rotate(-90 106.05 1064.61)" textLength="18.16" lengthAdjust="spacingAndGlyphs">ATR</text>
<line x1="129.49" y1="1041.25" x2="129.49" y2="1045.45" stroke="#3a3a3a" stroke-width="1.2"/>
<text x="132.84" y="1072.93" font-size="9.5" font-style="italic" transform="rotate(-90 132.84 1072.93)" textLength="26.48" lengthAdjust="spacingAndGlyphs">CCNC</text>
<line x1="156.29" y1="1041.25" x2="156.29" y2="1045.45" stroke="#3a3a3a" stroke-width="1.2"/>
<text x="159.64" y="1078.03" font-size="9.5" font-style="italic" transform="rotate(-90 159.64 1078.03)" textLength="31.58" lengthAdjust="spacingAndGlyphs">CCND1</text>
<line x1="183.08" y1="1041.25" x2="183.08" y2="1045.45" stroke="#3a3a3a" stroke-width="1.2"/>
<text x="186.43" y="1078.03" font-size="9.5" font-style="italic" transform="rotate(-90 186.43 1078.03)" textLength="31.58" lengthAdjust="spacingAndGlyphs">CCND2</text>
<line x1="209.88" y1="1041.25" x2="209.88" y2="1045.45" stroke="#3a3a3a" stroke-width="1.2"/>
<text x="213.23" y="1078.54" font-size="9.5" font-style="italic" transform="rotate(-90 213.23 1078.54)" textLength="32.09" lengthAdjust="spacingAndGlyphs">CCNG2</text>
<line x1="236.67" y1="1041.25" x2="236.67" y2="1045.45" stroke="#3a3a3a" stroke-width="1.2"/>
<text x="240.02" y="1072.93" font-size="9.5" font-style="italic" transform="rotate(-90 240.02 1072.93)" textLength="26.48" lengthAdjust="spacingAndGlyphs">CCNH</text>
<line x1="263.47" y1="1041.25" x2="263.47" y2="1045.45" stroke="#3a3a3a" stroke-width="1.2"/>
<text x="266.82" y="1077.01" font-size="9.5" font-style="italic" transform="rotate(-90 266.82 1077.01)" textLength="30.56" lengthAdjust="spacingAndGlyphs">CCNT1</text>
<line x1="290.26" y1="1041.25" x2="290.26" y2="1045.45" stroke="#3a3a3a" stroke-width="1.2"/>
<text x="293.61" y="1076.51" font-size="9.5" font-style="italic" transform="rotate(-90 293.61 1076.51)" textLength="30.06" lengthAdjust="spacingAndGlyphs">CDC16</text>
<line x1="317.06" y1="1041.25" x2="317.06" y2="1045.45" stroke="#3a3a3a" stroke-width="1.2"/>
<text x="320.41" y="1076.51" font-size="9.5" font-style="italic" transform="rotate(-90 320.41 1076.51)" textLength="30.06" lengthAdjust="spacingAndGlyphs">CDC34</text>
<line x1="343.85" y1="1041.25" x2="343.85" y2="1045.45" stroke="#3a3a3a" stroke-width="1.2"/>
<text x="347.2" y="1071.41" font-size="9.5" font-style="italic" transform="rotate(-90 347.2 1071.41)" textLength="24.96" lengthAdjust="spacingAndGlyphs">CDK6</text>
<line x1="370.64" y1="1041.25" x2="370.64" y2="1045.45" stroke="#3a3a3a" stroke-width="1.2"/>
<text x="374" y="1071.41" font-size="9.5" font-style="italic" transform="rotate(-90 374 1071.41)" textLength="24.96" lengthAdjust="spacingAndGlyphs">CDK7</text>
<line x1="397.44" y1="1041.25" x2="397.44" y2="1045.45" stroke="#3a3a3a" stroke-width="1.2"/>
<text x="400.79" y="1071.41" font-size="9.5" font-style="italic" transform="rotate(-90 400.79 1071.41)" textLength="24.96" lengthAdjust="spacingAndGlyphs">CDK8</text>
<line x1="424.24" y1="1041.25" x2="424.24" y2="1045.45" stroke="#3a3a3a" stroke-width="1.2"/>
<text x="427.59" y="1084.65" font-size="9.5" font-style="italic" transform="rotate(-90 427.59 1084.65)" textLength="38.2" lengthAdjust="spacingAndGlyphs">CDKN1A</text>
<line x1="451.03" y1="1041.25" x2="451.03" y2="1045.45" stroke="#3a3a3a" stroke-width="1.2"/>
<text x="454.38" y="1084.65" font-size="9.5" font-style="italic" transform="rotate(-90 454.38 1084.65)" textLength="38.2" lengthAdjust="spacingAndGlyphs">CDKN2B</text>
<line x1="477.83" y1="1041.25" x2="477.83" y2="1045.45" stroke="#3a3a3a" stroke-width="1.2"/>
<text x="481.18" y="1068.36" font-size="9.5" font-style="italic" transform="rotate(-90 481.18 1068.36)" textLength="21.91" lengthAdjust="spacingAndGlyphs">E2F4</text>
<line x1="504.62" y1="1041.25" x2="504.62" y2="1045.45" stroke="#3a3a3a" stroke-width="1.2"/>
<text x="507.97" y="1070.91" font-size="9.5" font-style="italic" transform="rotate(-90 507.97 1070.91)" textLength="24.46" lengthAdjust="spacingAndGlyphs">HUS1</text>
<line x1="531.42" y1="1041.25" x2="531.42" y2="1045.45" stroke="#3a3a3a" stroke-width="1.2"/>
<text x="534.77" y="1077.35" font-size="9.5" font-style="italic" transform="rotate(-90 534.77 1077.35)" textLength="30.9" lengthAdjust="spacingAndGlyphs">MNAT1</text>
<line x1="558.21" y1="1041.25" x2="558.21" y2="1045.45" stroke="#3a3a3a" stroke-width="1.2"/>
<text x="561.56" y="1071.41" font-size="9.5" font-style="italic" transform="rotate(-90 561.56 1071.41)" textLength="24.96" lengthAdjust="spacingAndGlyphs">RAD1</text>
<line x1="585" y1="1041.25" x2="585" y2="1045.45" stroke="#3a3a3a" stroke-width="1.2"/>
<text x="588.36" y="1064.79" font-size="9.5" font-style="italic" transform="rotate(-90 588.36 1064.79)" textLength="18.34" lengthAdjust="spacingAndGlyphs">RB1</text>
<line x1="611.8" y1="1041.25" x2="611.8" y2="1045.45" stroke="#3a3a3a" stroke-width="1.2"/>
<text x="615.15" y="1070.39" font-size="9.5" font-style="italic" transform="rotate(-90 615.15 1070.39)" textLength="23.94" lengthAdjust="spacingAndGlyphs">RBL1</text>
<line x1="638.6" y1="1041.25" x2="638.6" y2="1045.45" stroke="#3a3a3a" stroke-width="1.2"/>
<text x="641.95" y="1088.39" font-size="9.5" font-style="italic" transform="rotate(-90 641.95 1088.39)" textLength="41.94" lengthAdjust="spacingAndGlyphs">SERTAD1</text>
<line x1="665.39" y1="1041.25" x2="665.39" y2="1045.45" stroke="#3a3a3a" stroke-width="1.2"/>
<text x="668.74" y="1068.36" font-size="9.5" font-style="italic" transform="rotate(-90 668.74 1068.36)" textLength="21.91" lengthAdjust="spacingAndGlyphs">TP53</text>
<text x="319" y="1101.4" font-size="9.5" textLength="106.3" lengthAdjust="spacing">over-expressed genes</text>
<rect x="417.7" y="1045.2" width="15.7" height="47" fill="none" stroke="#3a3a3a" stroke-width="0.95"/>
<rect x="73.25" y="1132.25" width="5.4" height="14.48" fill="#646464"/>
<rect x="100.01" y="1132.25" width="5.4" height="20.52" fill="#646464"/>
<rect x="107.56" y="1132.25" width="5.4" height="18.99" fill="#000000"/>
<rect x="126.77" y="1132.25" width="5.4" height="19.99" fill="#646464"/>
<rect x="134.32" y="1132.25" width="5.4" height="13.48" fill="#000000"/>
<rect x="153.53" y="1132.25" width="5.4" height="14.48" fill="#646464"/>
<rect x="180.29" y="1132.25" width="5.4" height="19.26" fill="#646464"/>
<rect x="187.84" y="1132.25" width="5.4" height="13.74" fill="#000000"/>
<rect x="207.05" y="1132.25" width="5.4" height="13.28" fill="#646464"/>
<rect x="214.6" y="1132.25" width="5.4" height="21.51" fill="#000000"/>
<rect x="233.81" y="1132.25" width="5.4" height="14.01" fill="#646464"/>
<rect x="241.36" y="1132.25" width="5.4" height="14.28" fill="#000000"/>
<rect x="260.57" y="1132.25" width="5.4" height="16.53" fill="#646464"/>
<rect x="268.12" y="1132.25" width="5.4" height="18.53" fill="#000000"/>
<rect x="287.33" y="1132.25" width="5.4" height="15.27" fill="#646464"/>
<rect x="314.09" y="1132.25" width="5.4" height="14.01" fill="#646464"/>
<rect x="321.64" y="1132.25" width="5.4" height="18.53" fill="#000000"/>
<rect x="340.85" y="1132.25" width="5.4" height="13.74" fill="#646464"/>
<line x1="357" y1="1131.85" x2="357" y2="1265.4" stroke="#303030" stroke-width="0.95"/>
<line x1="63.4" y1="1132.25" x2="357.4" y2="1132.25" stroke="#3a3a3a" stroke-width="1.2"/>
<line x1="64" y1="1131.85" x2="64" y2="1265.6" stroke="#3a3a3a" stroke-width="1.2"/>
<line x1="63.4" y1="1265" x2="357.4" y2="1265" stroke="#3a3a3a" stroke-width="1.2"/>
<line x1="59.9" y1="1132.25" x2="64" y2="1132.25" stroke="#3a3a3a" stroke-width="1.2"/>
<text x="59.2" y="1135.7" font-size="9.3" text-anchor="end">0</text>
<line x1="59.9" y1="1165.45" x2="64" y2="1165.45" stroke="#3a3a3a" stroke-width="1.2"/>
<text x="59.2" y="1168.9" font-size="9.3" text-anchor="end">-5</text>
<line x1="59.9" y1="1198.65" x2="64" y2="1198.65" stroke="#3a3a3a" stroke-width="1.2"/>
<text x="59.2" y="1202.1" font-size="9.3" text-anchor="end">-10</text>
<line x1="59.9" y1="1231.85" x2="64" y2="1231.85" stroke="#3a3a3a" stroke-width="1.2"/>
<text x="59.2" y="1235.3" font-size="9.3" text-anchor="end">-15</text>
<line x1="59.9" y1="1265.05" x2="64" y2="1265.05" stroke="#3a3a3a" stroke-width="1.2"/>
<text x="59.2" y="1268.5" font-size="9.3" text-anchor="end">-20</text>
<text x="36.4" y="1237.38" font-size="9.5" transform="rotate(-90 36.4 1237.38)" textLength="76.75" lengthAdjust="spacing">n-fold regulation</text>
<line x1="75.95" y1="1265" x2="75.95" y2="1269.2" stroke="#3a3a3a" stroke-width="1.2"/>
<text x="79.3" y="1303.3" font-size="9.5" font-style="italic" transform="rotate(-90 79.3 1303.3)" textLength="33.1" lengthAdjust="spacingAndGlyphs">AURKB</text>
<line x1="102.71" y1="1265" x2="102.71" y2="1269.2" stroke="#3a3a3a" stroke-width="1.2"/>
<text x="106.06" y="1297.71" font-size="9.5" font-style="italic" transform="rotate(-90 106.06 1297.71)" textLength="27.51" lengthAdjust="spacingAndGlyphs">BIRC5</text>
<line x1="129.47" y1="1265" x2="129.47" y2="1269.2" stroke="#3a3a3a" stroke-width="1.2"/>
<text x="132.82" y="1301.78" font-size="9.5" font-style="italic" transform="rotate(-90 132.82 1301.78)" textLength="31.58" lengthAdjust="spacingAndGlyphs">CCNA2</text>
<line x1="156.23" y1="1265" x2="156.23" y2="1269.2" stroke="#3a3a3a" stroke-width="1.2"/>
<text x="159.58" y="1306.88" font-size="9.5" font-style="italic" transform="rotate(-90 159.58 1306.88)" textLength="36.68" lengthAdjust="spacingAndGlyphs">CDC25A</text>
<line x1="182.99" y1="1265" x2="182.99" y2="1269.2" stroke="#3a3a3a" stroke-width="1.2"/>
<text x="186.34" y="1295.16" font-size="9.5" font-style="italic" transform="rotate(-90 186.34 1295.16)" textLength="24.96" lengthAdjust="spacingAndGlyphs">CDK1</text>
<line x1="209.75" y1="1265" x2="209.75" y2="1269.2" stroke="#3a3a3a" stroke-width="1.2"/>
<text x="213.1" y="1292.11" font-size="9.5" font-style="italic" transform="rotate(-90 213.1 1292.11)" textLength="21.91" lengthAdjust="spacingAndGlyphs">E2F1</text>
<line x1="236.51" y1="1265" x2="236.51" y2="1269.2" stroke="#3a3a3a" stroke-width="1.2"/>
<text x="239.86" y="1300.26" font-size="9.5" font-style="italic" transform="rotate(-90 239.86 1300.26)" textLength="30.06" lengthAdjust="spacingAndGlyphs">GTSE1</text>
<line x1="263.27" y1="1265" x2="263.27" y2="1269.2" stroke="#3a3a3a" stroke-width="1.2"/>
<text x="266.62" y="1306.88" font-size="9.5" font-style="italic" transform="rotate(-90 266.62 1306.88)" textLength="36.68" lengthAdjust="spacingAndGlyphs">MAD2L1</text>
<line x1="290.03" y1="1265" x2="290.03" y2="1269.2" stroke="#3a3a3a" stroke-width="1.2"/>
<text x="293.38" y="1297.19" font-size="9.5" font-style="italic" transform="rotate(-90 293.38 1297.19)" textLength="26.99" lengthAdjust="spacingAndGlyphs">MCM4</text>
<line x1="316.79" y1="1265" x2="316.79" y2="1269.2" stroke="#3a3a3a" stroke-width="1.2"/>
<text x="320.14" y="1297.2" font-size="9.5" font-style="italic" transform="rotate(-90 320.14 1297.2)" textLength="27" lengthAdjust="spacingAndGlyphs">MKI67</text>
<line x1="343.55" y1="1265" x2="343.55" y2="1269.2" stroke="#3a3a3a" stroke-width="1.2"/>
<text x="346.9" y="1301.27" font-size="9.5" font-style="italic" transform="rotate(-90 346.9 1301.27)" textLength="31.07" lengthAdjust="spacingAndGlyphs">STMN1</text>
<text x="153.75" y="1319.2" font-size="9.5" textLength="111.75" lengthAdjust="spacing">under-expressed genes</text>
<rect x="467.25" y="1247.52" width="16.5" height="16.98" fill="#d4d4d4"/>
<rect x="514.75" y="1257" width="15.75" height="7.5" fill="#000000"/>
<line x1="538.25" y1="1131.35" x2="538.25" y2="1264.9" stroke="#303030" stroke-width="0.95"/>
<line x1="460" y1="1131.75" x2="538.65" y2="1131.75" stroke="#303030" stroke-width="0.95"/>
<line x1="460" y1="1131.35" x2="460" y2="1265.1" stroke="#3a3a3a" stroke-width="1.2"/>
<line x1="459.4" y1="1264.5" x2="538.65" y2="1264.5" stroke="#3a3a3a" stroke-width="1.2"/>
<line x1="455.9" y1="1264.5" x2="460" y2="1264.5" stroke="#3a3a3a" stroke-width="1.2"/>
<text x="454.3" y="1267.95" font-size="9.3" text-anchor="end">0</text>
<line x1="455.9" y1="1226.6" x2="460" y2="1226.6" stroke="#3a3a3a" stroke-width="1.2"/>
<text x="454.3" y="1230.05" font-size="9.3" text-anchor="end">10</text>
<line x1="455.9" y1="1188.7" x2="460" y2="1188.7" stroke="#3a3a3a" stroke-width="1.2"/>
<text x="454.3" y="1192.15" font-size="9.3" text-anchor="end">20</text>
<line x1="455.9" y1="1150.8" x2="460" y2="1150.8" stroke="#3a3a3a" stroke-width="1.2"/>
<text x="454.3" y="1154.25" font-size="9.3" text-anchor="end">30</text>
<text x="438.5" y="1237.38" font-size="9.5" transform="rotate(-90 438.5 1237.38)" textLength="76.75" lengthAdjust="spacing">n-fold regulation</text>
<line x1="498.5" y1="1264.5" x2="498.5" y2="1268.9" stroke="#3a3a3a" stroke-width="1.2"/>
<text x="477.09" y="1278.3" font-size="9.5" font-style="italic" textLength="43.81" lengthAdjust="spacingAndGlyphs">GADD45A</text>
<rect x="636.75" y="1132" width="15.25" height="11.01" fill="#646464"/>
<rect x="658.5" y="1132" width="15" height="9.5" fill="#000000"/>
<line x1="680.4" y1="1131.6" x2="680.4" y2="1264.95" stroke="#303030" stroke-width="0.95"/>
<line x1="607.15" y1="1132" x2="680.8" y2="1132" stroke="#3a3a3a" stroke-width="1.2"/>
<line x1="607.75" y1="1131.6" x2="607.75" y2="1265.15" stroke="#3a3a3a" stroke-width="1.2"/>
<line x1="607.15" y1="1264.55" x2="680.8" y2="1264.55" stroke="#3a3a3a" stroke-width="1.2"/>
<line x1="603.65" y1="1132" x2="607.75" y2="1132" stroke="#3a3a3a" stroke-width="1.2"/>
<text x="602.3" y="1135.45" font-size="9.3" text-anchor="end">0</text>
<line x1="603.65" y1="1176.2" x2="607.75" y2="1176.2" stroke="#3a3a3a" stroke-width="1.2"/>
<text x="602.3" y="1179.65" font-size="9.3" text-anchor="end">-10</text>
<line x1="603.65" y1="1220.4" x2="607.75" y2="1220.4" stroke="#3a3a3a" stroke-width="1.2"/>
<text x="602.3" y="1223.85" font-size="9.3" text-anchor="end">-20</text>
<line x1="603.65" y1="1264.6" x2="607.75" y2="1264.6" stroke="#3a3a3a" stroke-width="1.2"/>
<text x="602.3" y="1268.05" font-size="9.3" text-anchor="end">-30</text>
<text x="580.1" y="1237.38" font-size="9.5" transform="rotate(-90 580.1 1237.38)" textLength="76.75" lengthAdjust="spacing">n-fold regulation</text>
<line x1="643.5" y1="1264.55" x2="643.5" y2="1268.95" stroke="#3a3a3a" stroke-width="1.2"/>
<text x="632.03" y="1279" font-size="9.5" font-style="italic" textLength="23.95" lengthAdjust="spacingAndGlyphs">SKP2</text>
<rect x="490.3" y="1304.2" width="189.4" height="15.3" fill="#fff" stroke="#444" stroke-width="1.1"/>
<rect x="492.81" y="1309.65" width="15.06" height="4.9" fill="#d4d4d4"/>
<text x="515.71" y="1315.25" font-size="10" textLength="33.54" lengthAdjust="spacing">viscum</text>
<rect x="562.71" y="1309.65" width="15.06" height="4.9" fill="#777"/>
<text x="585.4" y="1315.25" font-size="10" textLength="10.44" lengthAdjust="spacing">TT</text>
<rect x="609.6" y="1309.65" width="15.06" height="4.9" fill="#000000"/>
<text x="632" y="1315.25" font-size="10" textLength="44.59" lengthAdjust="spacing">viscumTT</text>
</svg>
</body>
</html>
